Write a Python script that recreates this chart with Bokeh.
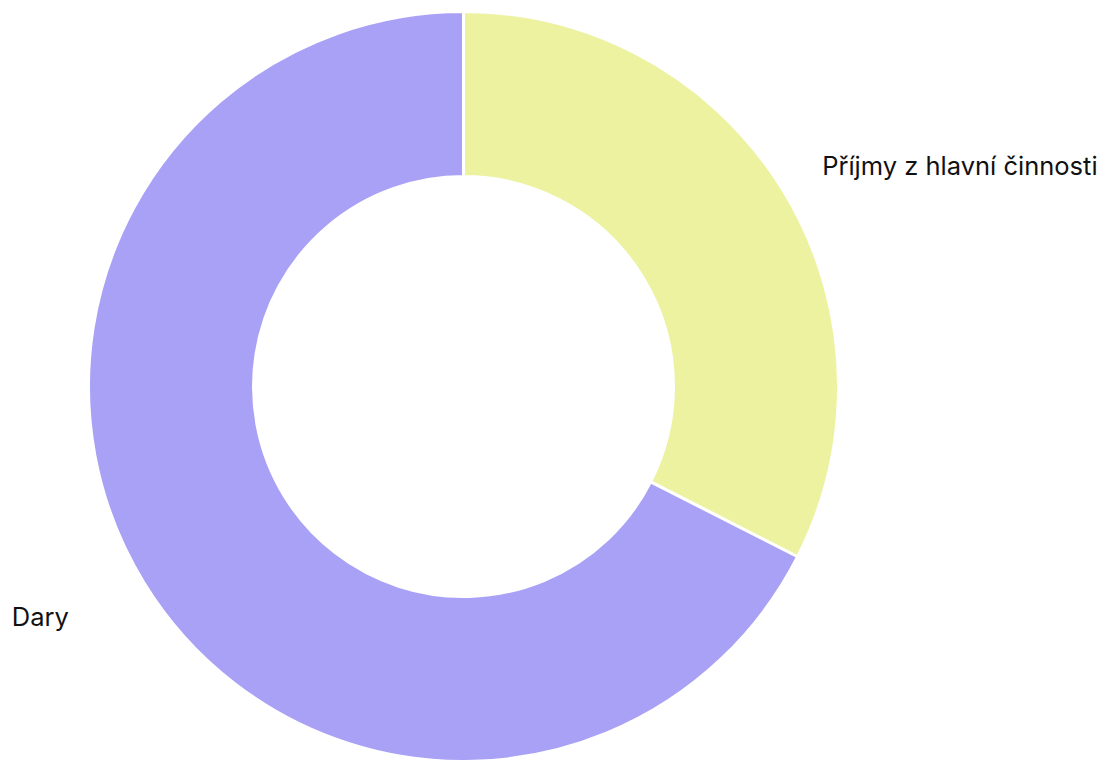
import numpy as np
from bokeh.plotting import figure
from bokeh.models import Range1d, ColumnDataSource
from bokeh.core.properties import value
from bokeh.embed import file_html
from bokeh.resources import INLINE

# data
categories = ["Příjmy z hlavní činnosti", "Dary"]
values = [32.5, 67.5]
colors = ["#ECF2A0", "#A9A1F5"]

# layout (screen pixels of the page)
W, H = 1106, 760
cx, cy = 463, -386
r_outer, r_inner = 375, 210
label_r = 430
label_dx = [-8, -28]
label_dy = [-4, -5]

frac = np.array(values) / np.sum(values)
cum = np.concatenate([[0], np.cumsum(frac)])
start = np.pi / 2 - 2 * np.pi * cum[:-1]
end = np.pi / 2 - 2 * np.pi * cum[1:]
mid = (start + end) / 2

lx = cx + label_r * np.cos(mid) + np.array(label_dx)
ly = cy + label_r * np.sin(mid) + np.array(label_dy)
align = ["left" if np.cos(m) >= 0 else "right" for m in mid]

src = ColumnDataSource(dict(cat=categories, start=start, end=end, color=colors))
lsrc = ColumnDataSource(dict(x=lx, y=ly, text=categories, align=align))

p = figure(width=W, height=H, x_range=Range1d(0, W), y_range=Range1d(-H, 0),
           output_backend="svg", toolbar_location=None, min_border=0)
p.axis.visible = False
p.grid.visible = False
p.outline_line_color = None
p.background_fill_color = "white"
p.border_fill_color = "white"

p.annular_wedge(x=cx, y=cy, inner_radius=r_inner, outer_radius=r_outer,
                start_angle="start", end_angle="end", direction="clock",
                fill_color="color", line_color="white", line_width=3, source=src)

p.text(x="x", y="y", text="text", text_align="align", text_baseline="middle",
       text_font=value("Inter"), text_font_size="25.5px", text_color="#111111", source=lsrc)

open("out.html", "w").write(file_html(p, INLINE))
